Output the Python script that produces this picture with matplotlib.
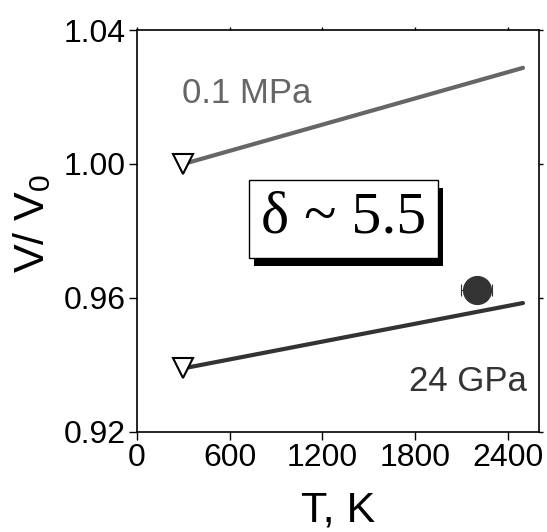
import matplotlib
matplotlib.use('Agg')
import matplotlib.pyplot as plt
import matplotlib.patheffects as pe

# data
T_line = [300, 2500]
V_01MPa = [1.000, 1.0287]
V_24GPa = [0.939, 0.9585]
T_start = [300]
V_start_01 = [1.000]
V_start_24 = [0.939]
T_point = [2200]
V_point = [0.9624]
T_err = [100]
xticks = [0, 600, 1200, 1800, 2400]
yticks = [0.92, 0.96, 1.00, 1.04]

plt.rcParams['font.family'] = ['Liberation Sans', 'DejaVu Sans']

fig = plt.figure(figsize=(5.47, 5.32), dpi=100)
ax = fig.add_axes([0.2505, 0.188, 0.7349, 0.7556])

ax.plot(T_line, V_01MPa, color='#666666', lw=3, solid_capstyle='round', zorder=2)
ax.plot(T_line, V_24GPa, color='#333333', lw=3, solid_capstyle='round', zorder=2)
ax.plot(T_start, V_start_01, 'v', ms=15, mfc='white', mec='black', mew=1.5, zorder=3)
ax.plot(T_start, V_start_24, 'v', ms=15, mfc='white', mec='black', mew=1.5, zorder=3)
ax.errorbar(T_point, V_point, xerr=T_err, fmt='o', ms=20, color='#333333',
            ecolor='#333333', elinewidth=0.8, capsize=4, capthick=0.8, zorder=4)

ax.text(289, 1.0209, '0.1 MPa', color='#666666', fontsize=25, va='center', ha='left')
ax.text(2526, 0.9351, '24 GPa', color='#333333', fontsize=25, va='center', ha='right')

t = ax.text(1336, 0.9836, r'δ ~ 5.5', family='Liberation Serif', fontsize=43,
            ha='center', va='center', zorder=5,
            bbox=dict(boxstyle='square,pad=0.2', fc='white', ec='black', lw=1))
t.get_bbox_patch().set_path_effects([
    pe.SimplePatchShadow(offset=(4, -6), shadow_rgbFace='black', alpha=1.0),
    pe.Normal()])

ax.set_xlim(0, 2604)
ax.set_ylim(0.92, 1.04)
ax.set_xticks(xticks)
ax.set_yticks(yticks)
ax.set_yticklabels([f'{v:.2f}' for v in yticks])
ax.tick_params(direction='out', length=6, width=1, labelsize=23, pad=2)
ax.tick_params(axis='x', which='major', top=True)
ax.tick_params(axis='y', which='major', right=True)
for tk in ax.xaxis.get_major_ticks():
    tk.tick2line.set_markersize(2)
for tk in ax.yaxis.get_major_ticks():
    tk.tick2line.set_markersize(3)
for s in ax.spines.values():
    s.set_linewidth(1.2)

ax.set_xlabel('T, K', fontsize=31, va='top')
ax.xaxis.set_label_coords(0.5, -0.145)
ax.set_ylabel(r'V/ V$_\mathregular{0}$', fontsize=31, va='center')
ax.yaxis.set_label_coords(-0.26, 0.52)

fig.savefig('out.png', dpi=100)
